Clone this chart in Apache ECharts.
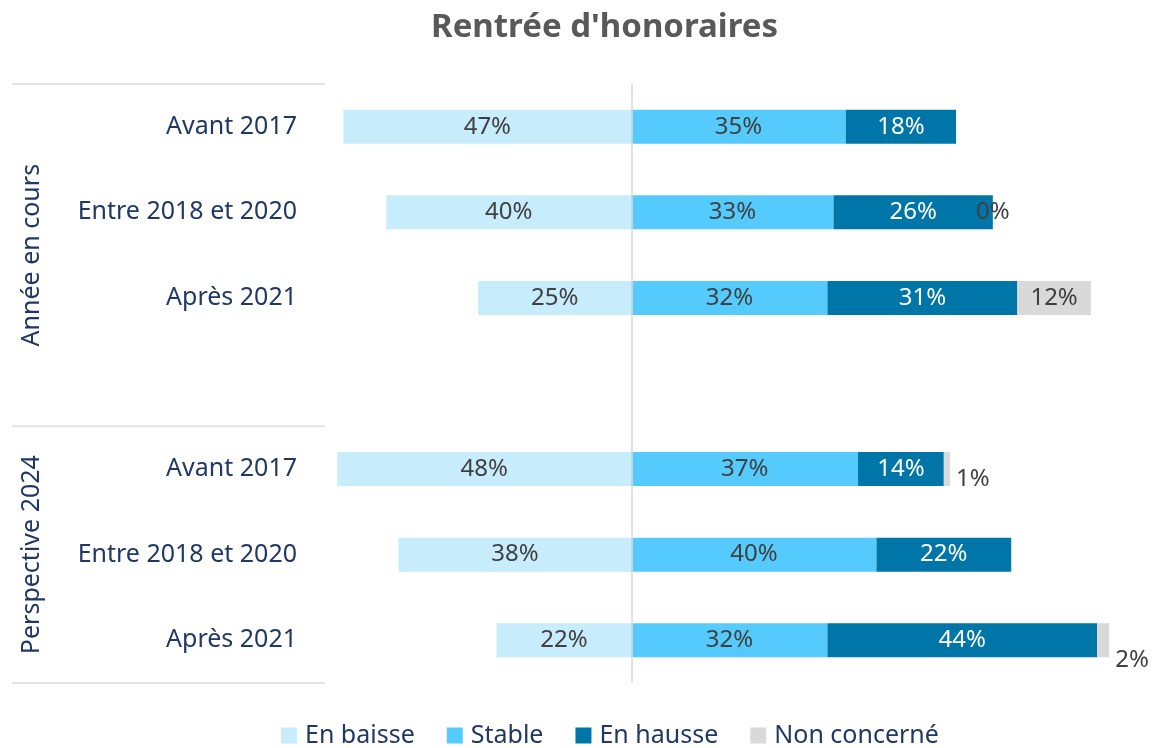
<!DOCTYPE html>
<html>
<head>
<meta charset="utf-8">
<script src="https://cdn.jsdelivr.net/npm/echarts@6/dist/echarts.min.js"></script>
<style>html,body{margin:0;padding:0;background:#fff;}#c{width:1153px;height:748px;}</style>
</head>
<body>
<div id="c"></div>
<script>
const title = "Rentrée d'honoraires";
const categories = ['Avant 2017', 'Entre 2018 et 2020', 'Après 2021', '', 'Avant 2017', 'Entre 2018 et 2020', 'Après 2021'];
const groups = ['Année en cours', 'Perspective 2024'];
const seriesNames = ['En baisse', 'Stable', 'En hausse', 'Non concerné'];
const enBaisse = [47, 40, 25, null, 48, 38, 22];
const stable = [35, 33, 32, null, 37, 40, 32];
const enHausse = [18, 26, 31, null, 14, 22, 44];
const nonConcerne = [0, 0, 12, null, 1, 0, 2];
const nonConcerneShown = [false, true, true, false, true, false, true];

const colors = ['#C7ECFC', '#55CBFD', '#0076A8', '#D9D9D9'];
const navy = '#1F3864';
const font = 'Noto Sans';

const gridLeft = 325, gridTop = 84, gridBottom = 65, gridRight = 31.5;
const chartH = 748;
const gridH = chartH - gridTop - gridBottom;
const band = gridH / categories.length;

const chart = echarts.init(document.getElementById('c'), null, {renderer: 'canvas'});

function lbl(color) {
  return {show: true, position: 'inside', color: color, fontFamily: font, fontSize: 24,
    formatter: p => (p.value == null ? '' : Math.abs(p.value) + '%')};
}

const ncData = nonConcerne.map((v, i) => {
  if (v == null) return null;
  const d = {value: v};
  if (!nonConcerneShown[i]) {
    d.label = {show: false};
  } else if (v > 0 && v < 5) {
    d.label = {show: true, position: 'right', distance: 6, offset: [0, i === 6 ? 20 : 10]};
  }
  return d;
});

const lineY1 = gridTop, lineY2 = gridTop + 4 * band, lineY3 = gridTop + gridH;

chart.setOption({
  animation: false,
  title: {text: title, left: 426, top: 6, textStyle: {fontFamily: font, fontSize: 33, fontWeight: 'bold', color: '#595959'}},
  legend: {
    data: seriesNames, top: 718, left: 276, itemWidth: 16, itemHeight: 16, itemGap: 32,
    icon: 'rect', textStyle: {fontFamily: font, fontSize: 25, color: navy, padding: [0, 0, 0, 3]}
  },
  grid: {left: gridLeft, right: gridRight, top: gridTop, bottom: gridBottom, containLabel: false},
  xAxis: {type: 'value', min: -50, max: 80, show: false},
  yAxis: {
    type: 'category', data: categories, inverse: true,
    axisLine: {show: false}, axisTick: {show: false}, splitLine: {show: false},
    axisLabel: {fontFamily: font, fontSize: 25, color: navy, margin: 28}
  },
  series: [
    {name: seriesNames[0], type: 'bar', stack: 't', barWidth: 34, itemStyle: {color: colors[0]},
     label: lbl('#404040'), data: enBaisse.map(v => v == null ? null : -v),
     markLine: {silent: true, symbol: 'none', label: {show: false}, lineStyle: {color: '#D9D9D9', width: 1.5, type: 'solid'}, data: [{xAxis: 0}]}},
    {name: seriesNames[1], type: 'bar', stack: 't', barWidth: 34, itemStyle: {color: colors[1]},
     label: lbl('#404040'), data: stable},
    {name: seriesNames[2], type: 'bar', stack: 't', barWidth: 34, itemStyle: {color: colors[2]},
     label: lbl('#FFFFFF'), data: enHausse},
    {name: seriesNames[3], type: 'bar', stack: 't', barWidth: 34, itemStyle: {color: colors[3]},
     label: lbl('#404040'), data: ncData}
  ],
  graphic: [
    {type: 'line', shape: {x1: 12, y1: lineY1, x2: gridLeft, y2: lineY1}, style: {stroke: '#E3E3E3', lineWidth: 2}},
    {type: 'line', shape: {x1: 12, y1: lineY2, x2: gridLeft, y2: lineY2}, style: {stroke: '#E3E3E3', lineWidth: 2}},
    {type: 'line', shape: {x1: 12, y1: lineY3, x2: gridLeft, y2: lineY3}, style: {stroke: '#E3E3E3', lineWidth: 2}},
    {type: 'text', x: 32, y: (lineY1 + lineY2) / 2, rotation: Math.PI / 2,
     style: {text: groups[0], fontFamily: font, fontSize: 25, fill: navy, align: 'center', verticalAlign: 'middle'}},
    {type: 'text', x: 32, y: (lineY2 + lineY3) / 2, rotation: Math.PI / 2,
     style: {text: groups[1], fontFamily: font, fontSize: 25, fill: navy, align: 'center', verticalAlign: 'middle'}}
  ]
});
</script>
</body>
</html>
